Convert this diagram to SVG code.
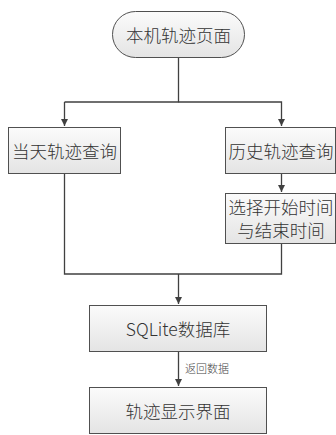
<svg xmlns="http://www.w3.org/2000/svg" width="336" height="435" viewBox="0 0 336 435">
<defs>
<linearGradient id="g" x1="0" y1="0" x2="0" y2="1">
<stop offset="0" stop-color="#fbfbfb"/>
<stop offset="1" stop-color="#e4e4e4"/>
</linearGradient>
<marker id="a" viewBox="0 0 10 10" refX="10" refY="5" markerWidth="7" markerHeight="7" orient="auto" markerUnits="userSpaceOnUse">
<path d="M0,0 L10,5 L0,10 z" fill="#404040"/>
</marker>
<style>
.n{fill:url(#g);stroke:#505050;stroke-width:1}
.t{font-family:"Noto Sans CJK SC","Noto Sans",sans-serif;font-size:17.5px;font-weight:300;fill:#333;text-anchor:middle;dominant-baseline:central}
.l{fill:none;stroke:#404040;stroke-width:1.3}
.s{font-family:"Noto Sans CJK SC",sans-serif;font-size:11px;font-weight:300;fill:#444}
</style>
</defs>
<rect width="336" height="435" fill="#fff"/>
<g id="connectors">
<path class="l" d="M178.5,57 V102 H64.5"/>
<path class="l" d="M178.5,102 H281.5 V126" marker-end="url(#a)"/>
<path class="l" d="M64.5,102 V126" marker-end="url(#a)"/>
<path class="l" d="M281.5,173 V192" marker-end="url(#a)"/>
<path class="l" d="M64.5,173 V274 H281.5 V243"/>
<path class="l" d="M178.5,274 V304" marker-end="url(#a)"/>
<path class="l" d="M178.5,351 V386" marker-end="url(#a)"/>
<text class="s" x="185" y="373">返回数据</text>
</g>
<g id="start">
<rect class="n" x="112.5" y="11.5" width="132" height="46" rx="23"/>
<text class="t" x="178.5" y="34">本机轨迹页面</text>
</g>
<g id="today">
<rect class="n" x="8.5" y="127.5" width="112" height="46"/>
<text class="t" x="64.5" y="150">当天轨迹查询</text>
</g>
<g id="history">
<rect class="n" x="225.5" y="127.5" width="110" height="46"/>
<text class="t" x="281" y="150">历史轨迹查询</text>
</g>
<g id="select">
<rect class="n" x="225.5" y="193.5" width="110" height="50"/>
<text class="t" x="281" y="206.5">选择开始时间</text>
<text class="t" x="281" y="229.5">与结束时间</text>
</g>
<g id="db">
<rect class="n" x="89.5" y="305.5" width="177" height="46"/>
<text class="t" x="178" y="328">SQLite数据库</text>
</g>
<g id="display">
<rect class="n" x="89.5" y="387.5" width="177" height="46"/>
<text class="t" x="178" y="410">轨迹显示界面</text>
</g>
</svg>
